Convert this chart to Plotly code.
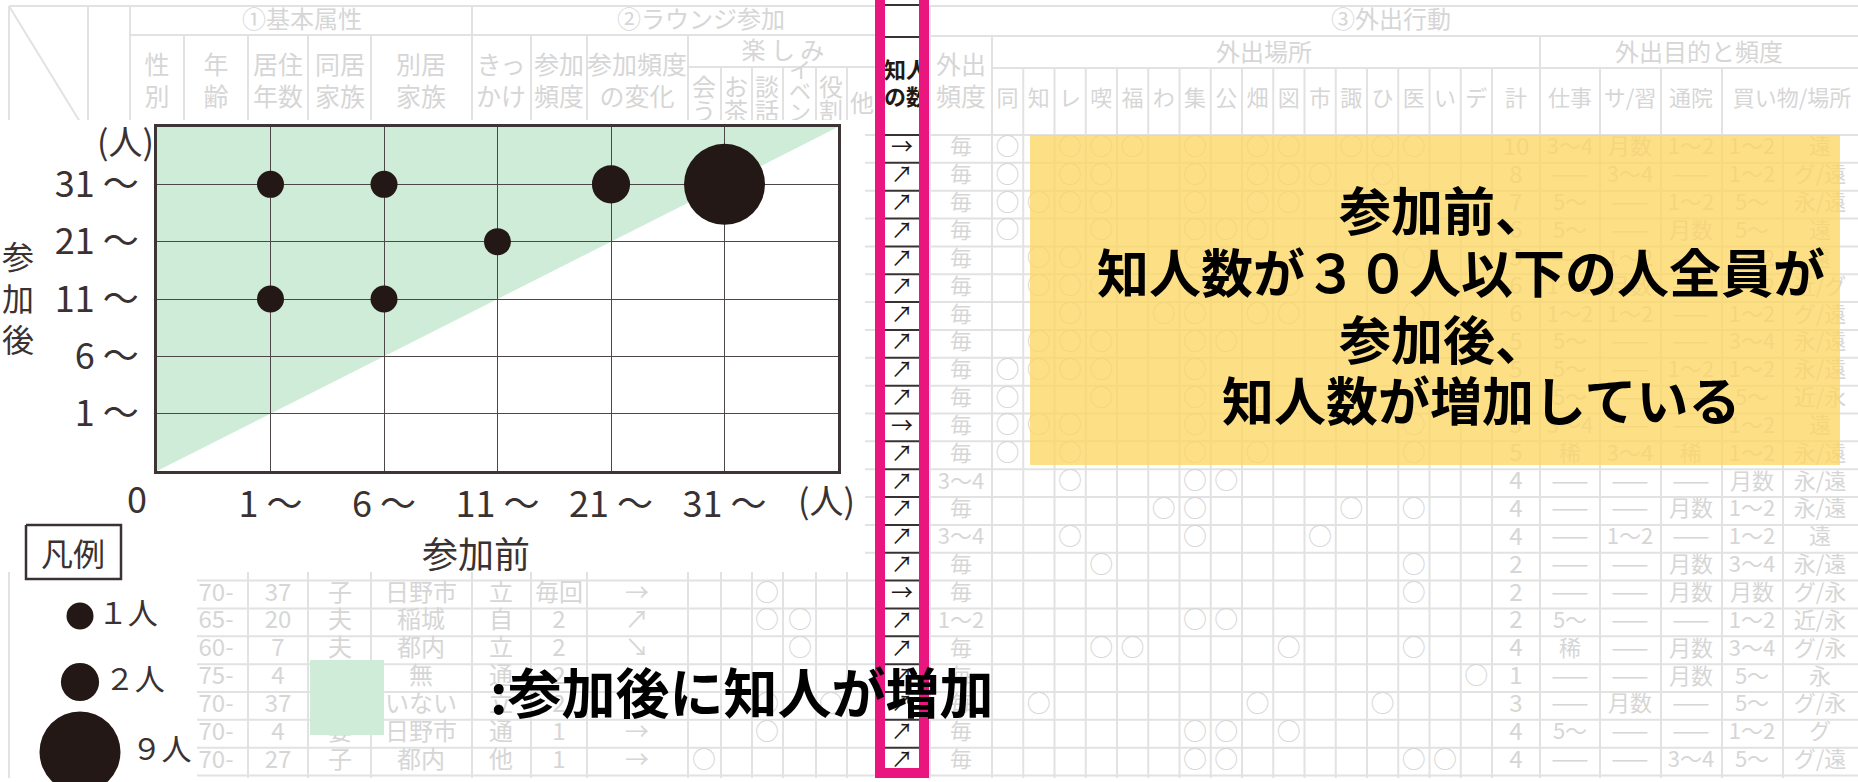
import plotly.graph_objects as go

JP = 'Noto Sans CJK JP'
INK = '#231815'
TXT = '#3a3232'
FAINT_LINE = '#e2e2e2'
FAINT_TXT = '#d6d6d6'
GREEN = '#cfecd8'
PINK = '#e9167f'

# ---- chart data: acquaintances before / after joining ----
ranges = ['0', '1 ～', '6 ～', '11 ～', '21 ～', '31 ～']
before = ['1 ～', '6 ～', '21 ～', '31 ～', '11 ～', '1 ～', '6 ～']
after = ['31 ～', '31 ～', '31 ～', '31 ～', '21 ～', '11 ～', '11 ～']
people = [1, 1, 2, 9, 1, 1, 1]

legend_people = [1, 2, 9]
legend_labels = ['１人', '２人', '９人']

# ---- highlighted column 知人の数 ----
change = ['→', '↗', '↗', '↗', '↗', '↗', '↗', '↗', '↗', '↗', '→', '↗',
          '↗', '↗', '↗', '↗', '→', '↗', '↗', '↗', '↗', '↗', '↗']

# ---- faint background table: ③外出行動 ----
place_cols = ['同', '知', 'レ', '喫', '福', 'わ', '集', '公', '畑', '図', '市', '諏', 'ひ', '医', 'い', 'デ']
out_freq = ['毎', '毎', '毎', '毎', '毎', '毎', '毎', '毎', '毎', '毎', '毎', '毎',
            '3～4', '毎', '3～4', '毎', '毎', '1～2', '毎', '毎', '毎', '毎', '毎']
out_places = ['同レ喫福集畑図諏ひ医', '同レ喫集畑図市ひ', '同知レ喫集畑図', '同喫集公畑医',
              '知レ集公医', '知レ喫集畑図', 'レわ集畑図医', '知レ喫集公', '同知レ喫集',
              '同喫集畑医', '同知レ集医', '同レ集畑医', 'レ集公', 'わ集諏医', 'レ集市',
              '喫医', '医', '集公', '喫福図医', 'デ', '知畑ひ', '集公図', '集公医い']
out_total = ['10', '8', '7', '6', '5', '6', '6', '5', '5', '5', '5', '5',
             '4', '4', '4', '2', '2', '2', '4', '1', '3', '4', '4']
out_work = ['3～4', '——', '5～', '5～', '——', '1～2', '1～2', '5～', '5～', '5～', '3～4', '稀',
            '——', '——', '——', '——', '——', '5～', '稀', '——', '——', '5～', '——']
out_learn = ['月数', '3～4', '——', '——', '1～2', '月数', '1～2', '——', '——', '——', '——', '3～4',
             '——', '——', '1～2', '——', '——', '——', '——', '——', '月数', '——', '——']
out_clinic = ['1～2', '——', '1～2', '月数', '——', '——', '——', '——', '1～2', '——', '——', '稀',
              '——', '月数', '——', '月数', '月数', '——', '月数', '月数', '——', '——', '3～4']
out_shop = ['1～2', '1～2', '5～', '5～', '1～2', '1～2', '1～2', '3～4', '1～2', '5～', '1～2', '1～2',
            '月数', '1～2', '1～2', '3～4', '月数', '1～2', '3～4', '5～', '5～', '1～2', '5～']
out_where = ['遠', 'グ/遠', '永/遠', '遠', '遠', '近/グ', 'グ/遠', '永/遠', '永/遠', '近/永', '遠', '永/遠',
             '永/遠', '永/遠', '遠', '永/遠', 'グ/永', '近/永', 'グ/永', '永', 'グ/永', 'グ', 'グ/遠']

# ---- faint background table: ①② rows visible below the chart ----
age = ['70-', '65-', '60-', '75-', '70-', '70-', '70-']
years = ['37', '20', '7', '4', '37', '4', '27']
family = ['子', '夫', '夫', '', '', '妻', '子']
relatives = ['日野市', '稲城', '都内', '無', 'いない', '日野市', '都内']
trigger = ['立', '自', '立', '通', '立', '通', '他']
freq = ['毎回', '2', '2', '2', '2', '1', '1']
freq_change = ['→', '↗', '↘', '', '', '→', '→']
fun = ['談', '談イ', 'イ', '', '談役', '談', '会']
fun_cols = ['会', 'お', '談', 'イ', '役', '他']

# ---- layout (pixels) ----
W, H = 1858, 782
ROW0, ROWH, NROW = 135, 27.85, 23
row_y = [ROW0 + (i + 0.5) * ROWH for i in range(NROW)]
row_edges = [ROW0 + k * ROWH for k in range(NROW + 1)]
single_edges = [992 + i * 31.25 for i in range(17)]
place_x = {c: single_edges[i] + 15.6 for i, c in enumerate(place_cols)}
fun_x = dict(zip(fun_cols, [704, 736, 767, 800, 831, 862]))

fig = go.Figure()

# table grid
lx, ly = [], []
def seg(x0, y0, x1, y1):
    lx.extend([x0, x1, None]); ly.extend([y0, y1, None])

seg(9, 6, W, 6)
seg(130, 35, 878, 35); seg(930, 36, W, 36)
seg(688, 67, 878, 67); seg(992, 68, W, 68)
for y in row_edges:
    seg(88, y, 878, y); seg(930, y, W, y)
for x in [9, 88, 130, 472, 930]:
    seg(x, 6, x, 778)
for x in [184, 248, 308, 371, 531, 587, 688, 992, 1540]:
    seg(x, 35, x, 778)
for x in [721, 752, 783, 816, 847] + single_edges[1:] + [1600, 1661, 1722]:
    seg(x, 67, x, 778)
seg(1783, 135, 1783, 778)
seg(9, 6, 88, 135)
fig.add_trace(go.Scatter(x=lx, y=ly, mode='lines', line=dict(color=FAINT_LINE, width=2),
                         hoverinfo='skip', xaxis='x', yaxis='y'))

# table texts
tx, ty, tt, ts = [], [], [], []
def put(x, y, s, size=24):
    tx.append(x); ty.append(y); tt.append(s); ts.append(size)

for s, x, y in [('①基本属性', 302, 22), ('②ラウンジ参加', 701, 22), ('③外出行動', 1391, 22),
                ('楽 し み', 783, 53), ('外出場所', 1264, 55), ('外出目的と頻度', 1699, 55)]:
    put(x, y, s, 24)
for a, b, x in [('性', '別', 157), ('年', '齢', 216), ('居住', '年数', 278), ('同居', '家族', 340),
                ('別居', '家族', 421), ('きっ', 'かけ', 501), ('参加', '頻度', 559),
                ('参加頻度', 'の変化', 637), ('外出', '頻度', 961)]:
    put(x, 68, a, 25); put(x, 100, b, 25)
for a, b, x in [('会', 'う', 704), ('お', '茶', 736), ('談', '話', 767), ('役', '割', 831)]:
    put(x, 90, a, 24); put(x, 114, b, 24)
put(800, 72, 'イ', 22); put(800, 93, 'ベ', 22); put(800, 114, 'ン', 22)
put(862, 106, '他', 24)
for c in place_cols:
    put(place_x[c], 100, c, 22)
for s, x in [('計', 1516), ('仕事', 1570), ('サ/習', 1630), ('通院', 1691), ('買い物/場所', 1792)]:
    put(x, 100, s, 22)

for i, y in enumerate(row_y):
    put(961, y, out_freq[i], 22)
    for c in out_places[i]:
        put(place_x[c], y, '○', 24)
    put(1516, y, out_total[i], 24)
    for x, col in [(1570, out_work), (1630, out_learn), (1691, out_clinic), (1752, out_shop), (1820, out_where)]:
        put(x, y, col[i], 22)

for j in range(len(age)):
    y = row_y[16 + j]
    for x, col in [(216, age), (278, years), (340, family), (421, relatives), (501, trigger),
                   (559, freq), (637, freq_change)]:
        put(x, y, col[j], 24)
    for c in fun[j]:
        put(fun_x[c], y, '○', 24)

fig.add_trace(go.Scatter(x=tx, y=ty, text=tt, mode='text', hoverinfo='skip',
                         textfont=dict(family=JP, size=ts, color=FAINT_TXT), xaxis='x', yaxis='y'))

# white panel behind chart and legend
fig.add_trace(go.Scatter(x=[0, 865, 865, 197, 197, 25, 25, 0, 0],
                         y=[120, 120, 572, 572, 790, 790, 572, 572, 120],
                         fill='toself', fillcolor='white', mode='none', hoverinfo='skip',
                         xaxis='x', yaxis='y'))

# yellow note box
fig.add_trace(go.Scatter(x=[1030, 1840, 1840, 1030, 1030], y=[135, 135, 465, 465, 135],
                         fill='toself', fillcolor='rgba(253,214,100,0.78)', mode='none',
                         hoverinfo='skip', xaxis='x', yaxis='y'))

# legend
fig.add_trace(go.Scatter(x=[26, 121, 121, 26, 26], y=[525, 525, 579, 579, 525], fill='toself',
                         fillcolor='white', mode='lines', line=dict(color='#3a3232', width=2.5),
                         hoverinfo='skip', xaxis='x', yaxis='y'))
SIZEREF = 1 / (2 * 13.5 ** 2)
fig.add_trace(go.Scatter(x=[80, 80, 80], y=[616, 682, 752], mode='markers+text',
                         marker=dict(size=legend_people, sizemode='area', sizeref=SIZEREF, color=INK,
                                     opacity=1, line=dict(width=0)),
                         text=legend_labels, textposition='middle right',
                         textfont=dict(family=JP, size=30, color=TXT), cliponaxis=False,
                         hoverinfo='skip', xaxis='x', yaxis='y'))
fig.add_trace(go.Scatter(x=[310, 384, 384, 310, 310], y=[660, 660, 735, 735, 660], fill='toself',
                         fillcolor=GREEN, mode='none', hoverinfo='skip', xaxis='x', yaxis='y'))

# highlighted 知人の数 column
fig.add_trace(go.Scatter(x=[880, 924, 924, 880, 880], y=[-10, -10, 773, 773, -10], fill='toself',
                         fillcolor='white', mode='none', hoverinfo='skip', xaxis='x', yaxis='y'))
px, py = [], []
for y in [5, 37] + row_edges[:-1]:
    px.extend([885, 919, None]); py.extend([y, y, None])
fig.add_trace(go.Scatter(x=px, y=py, mode='lines', line=dict(color='#3a3232', width=2),
                         hoverinfo='skip', xaxis='x', yaxis='y'))
fig.add_trace(go.Scatter(x=[902] * NROW, y=row_y, text=change, mode='text',
                         textfont=dict(family=JP, size=22, color=INK), hoverinfo='skip',
                         xaxis='x', yaxis='y'))
fig.add_trace(go.Scatter(x=[884, 884], y=[72, 99], text=['知人', 'の数'], mode='text',
                         textposition='middle right', cliponaxis=False,
                         textfont=dict(family=JP, size=22, color=INK, weight=700),
                         hoverinfo='skip', xaxis='x', yaxis='y'))
fig.add_trace(go.Scatter(x=[880, 880, 924, 924], y=[-20, 773, 773, -20], mode='lines',
                         line=dict(color=PINK, width=10), hoverinfo='skip', xaxis='x', yaxis='y'))

# the bubble chart
xi = [ranges.index(v) for v in before]
yi = [ranges.index(v) for v in after]
fig.add_trace(go.Scatter(x=xi, y=yi, mode='markers', cliponaxis=False,
                         marker=dict(size=people, sizemode='area', sizeref=SIZEREF, color=INK,
                                     opacity=1, line=dict(width=0)),
                         hovertext=[f'{b} → {a}: {n}人' for b, a, n in zip(before, after, people)],
                         hoverinfo='text', xaxis='x2', yaxis='y2'))

n = len(ranges)
fig.add_shape(type='path', path=f'M 0,0 L 0,{n} L {n},{n} Z', xref='x2', yref='y2',
              fillcolor=GREEN, line=dict(width=0), layer='below')

tickfont = dict(family=JP, size=36, color=TXT)
axis_common = dict(range=[0, n], tickvals=list(range(1, n)), ticktext=ranges[1:],
                   showgrid=True, gridcolor='#4f4747', gridwidth=1.2, zeroline=False,
                   showline=True, mirror=True, linecolor='#3d3535', linewidth=3,
                   ticks='', tickfont=tickfont, fixedrange=True)

fig.update_layout(
    width=W, height=H, margin=dict(l=0, r=0, t=0, b=0),
    paper_bgcolor='white', plot_bgcolor='rgba(0,0,0,0)', showlegend=False,
    xaxis=dict(domain=[0, 1], range=[0, W], visible=False, fixedrange=True),
    yaxis=dict(domain=[0, 1], range=[H, 0], visible=False, fixedrange=True),
    xaxis2=dict(domain=[157 / W, 838 / W], anchor='y2', ticklabelstandoff=0, **axis_common),
    yaxis2=dict(domain=[1 - 471 / H, 1 - 127 / H], anchor='x2', ticklabelstandoff=8, **axis_common),
)

def label(x, y, text, size, color=TXT, weight=None, anchor='center'):
    fig.add_annotation(x=x, y=y, xref='x', yref='y', text=text, showarrow=False,
                       xanchor=anchor, yanchor='middle',
                       font=dict(family=JP, size=size, color=color, weight=weight))

label(137, 497, '0', 36)
label(826, 499, '(人)', 34)
label(125, 140, '(人)', 34)
label(476, 552, '参加前', 36)
label(18, 296, '参<br>加<br>後', 32)
label(73, 552, '凡例', 32)
label(488, 690, ':参加後に知人が増加', 54, color='black', weight=700, anchor='left')

for text, x, y in [('参加前、', 1337, 208), ('知人数が３０人以下の人全員が', 1095, 270),
                   ('参加後、', 1337, 337), ('知人数が増加している', 1220, 398)]:
    label(x, y, text, 52, color='black', weight=700, anchor='left')

fig.write_html("out.html", config={'displayModeBar': False},
               post_script="document.body.style.margin='0';")
